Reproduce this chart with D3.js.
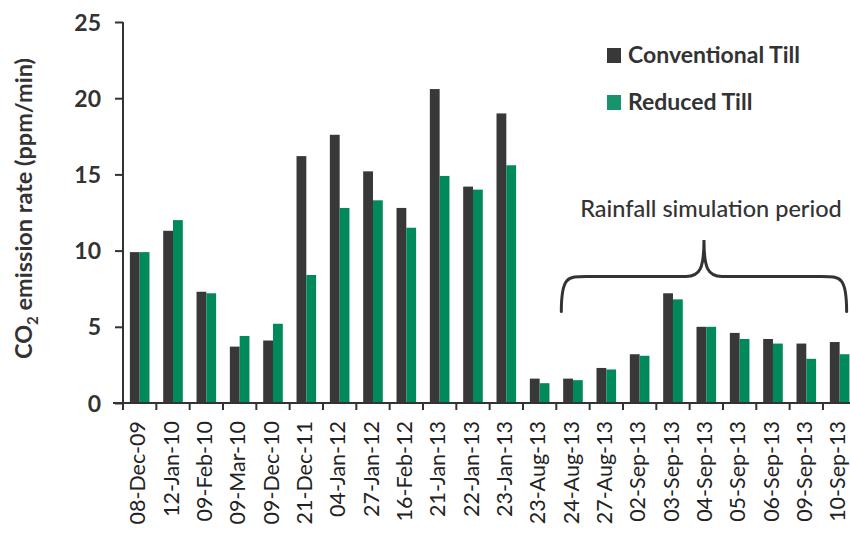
<!DOCTYPE html>
<html>
<head>
<meta charset="utf-8">
<script src="https://cdn.jsdelivr.net/npm/d3@7"></script>
<style>
  html, body { margin: 0; padding: 0; background: #fff; }
  svg { display: block; font-family: Lato, "Open Sans", sans-serif; }
</style>
</head>
<body>
<svg id="chart" width="850" height="533"></svg>
<script>
const categories = ["08-Dec-09","12-Jan-10","09-Feb-10","09-Mar-10","09-Dec-10","21-Dec-11","04-Jan-12","27-Jan-12","16-Feb-12","21-Jan-13","22-Jan-13","23-Jan-13","23-Aug-13","24-Aug-13","27-Aug-13","02-Sep-13","03-Sep-13","04-Sep-13","05-Sep-13","06-Sep-13","09-Sep-13","10-Sep-13"];
const conventionalTill = [9.9,11.3,7.3,3.7,4.1,16.2,17.6,15.2,12.8,20.6,14.2,19.0,1.6,1.6,2.3,3.2,7.2,5.0,4.6,4.2,3.9,4.0];
const reducedTill      = [9.9,12.0,7.2,4.4,5.2,8.4,12.8,13.3,11.5,14.9,14.0,15.6,1.3,1.5,2.2,3.1,6.8,5.0,4.2,3.9,2.9,3.2];
const seriesNames = ["Conventional Till","Reduced Till"];
const yTicks = [0,5,10,15,20,25];
const colors = {"Conventional Till":"#383838","Reduced Till":"#00895a"};
const legendColors = {"Conventional Till":"#383838","Reduced Till":"#17946c"};
const yTitle = "emission rate (ppm/min)";
const annotation = "Rainfall simulation period";
const bracketStart = "24-Aug-13", bracketEnd = "10-Sep-13";

const svg = d3.select("#chart");
const x0 = 123, x1 = 856.3, yBottom = 403, yTop = 22;

const x = d3.scaleBand().domain(categories).range([x0, x1]).padding(0);
const xs = d3.scaleBand().domain(seriesNames).range([0, x.bandwidth()]).paddingInner(0).paddingOuter(0.7);
const y = d3.scaleLinear().domain([0, 25]).range([yBottom, yTop]);

const rows = categories.map((c,i) => ({cat:c, vals:[
  {s:"Conventional Till", v:conventionalTill[i]},
  {s:"Reduced Till", v:reducedTill[i]}]}));

// bars
const g = svg.append("g");
g.selectAll("g.cat").data(rows).join("g")
  .attr("transform", d => `translate(${x(d.cat)},0)`)
  .selectAll("rect").data(d => d.vals).join("rect")
  .attr("x", d => xs(d.s))
  .attr("width", xs.bandwidth())
  .attr("y", d => y(d.v))
  .attr("height", d => y(0) - y(d.v))
  .attr("fill", d => colors[d.s]);

// y axis
const yAxis = svg.append("g").attr("transform", `translate(${x0},0)`)
  .call(d3.axisLeft(y).tickValues(yTicks).tickSize(8).tickPadding(14).tickFormat(d3.format("d")))
  .attr("font-family", "Lato, 'Open Sans', sans-serif");
yAxis.select(".domain").attr("d", `M0,${yTop}V${yBottom}`).attr("stroke","#333").attr("stroke-width",2);
yAxis.selectAll(".tick line").attr("stroke","#333").attr("stroke-width",2);
yAxis.selectAll(".tick text").attr("font-size",23).attr("font-weight",700).attr("fill","#333").attr("dy","0.35em");

// x axis
const xAxisG = svg.append("g").attr("transform", `translate(0,${yBottom})`);
xAxisG.append("line").attr("x1", x0-10).attr("x2", 850).attr("y1",0).attr("y2",0)
  .attr("stroke","#333").attr("stroke-width",2);
xAxisG.selectAll("line.tk").data(categories).join("line").attr("class","tk")
  .attr("x1", d => x(d)).attr("x2", d => x(d)).attr("y1",0).attr("y2",7)
  .attr("stroke","#333").attr("stroke-width",2);
xAxisG.selectAll("text.lbl").data(categories).join("text").attr("class","lbl")
  .attr("transform", d => `translate(${x(d)+x.bandwidth()/2},18) rotate(-90)`)
  .attr("text-anchor","end").attr("dy","0.26em")
  .attr("font-size",21.5).attr("fill","#222")
  .text(d => d);

// y title
const yt = svg.append("text")
  .attr("transform", `translate(32,${(yTop+yBottom)/2 - 4}) rotate(-90)`)
  .attr("text-anchor","middle").attr("font-size",23.5).attr("font-weight",700).attr("fill","#333");
yt.append("tspan").text("CO");
yt.append("tspan").attr("font-size",15).attr("dy",6).text("2");
yt.append("tspan").attr("dy",-6).text(" " + yTitle);

// legend
const lg = svg.append("g").attr("transform","translate(607,48)");
seriesNames.forEach((s,i) => {
  const row = lg.append("g").attr("transform", `translate(0,${i*47})`);
  row.append("rect").attr("width",14).attr("height",15).attr("fill",legendColors[s]);
  row.append("text").attr("x",21).attr("y",15).attr("font-size",23).attr("font-weight",700)
    .attr("fill","#333").text(s);
});

// brace annotation
const bx1 = x(bracketStart) + 5;
const bx2 = x(bracketEnd) + x.bandwidth()/2 + 7;
const bm = (bx1 + bx2) / 2;
const yEnd = y(6), yMid = y(8.3), yTip = y(10.7);
const path = d3.path();
path.moveTo(bx1, yEnd);
path.bezierCurveTo(bx1, yMid, bx1+6, yMid, bx1+25, yMid);
path.lineTo(bm-18, yMid);
path.bezierCurveTo(bm-4, yMid, bm, yMid-8, bm, yTip);
path.bezierCurveTo(bm, yMid-8, bm+4, yMid, bm+18, yMid);
path.lineTo(bx2-25, yMid);
path.bezierCurveTo(bx2-6, yMid, bx2, yMid, bx2, yEnd);
svg.append("path").attr("d", path.toString()).attr("fill","none")
  .attr("stroke","#333").attr("stroke-width",3).attr("stroke-linecap","round");

svg.append("text").attr("x", bm+7).attr("y", 217).attr("text-anchor","middle")
  .attr("font-size",23.5).attr("fill","#333").attr("font-weight",500).text(annotation);
</script>
</body>
</html>
